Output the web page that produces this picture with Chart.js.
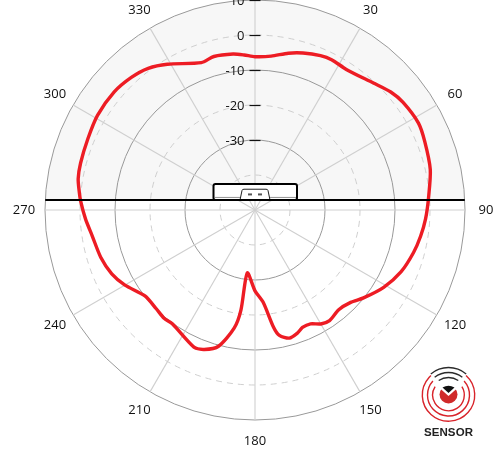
<!DOCTYPE html>
<html><head><meta charset="utf-8">
<style>html,body{margin:0;padding:0;background:#fff}#w{position:relative;width:500px;height:465px}canvas{display:block}</style>
<script src="https://cdn.jsdelivr.net/npm/chart.js@4"></script>
</head><body><div id="w"><canvas id="c" width="500" height="465"></canvas></div>
<script>
const angleLabels = [30,60,90,120,150,180,210,240,270,300,330];
const tickLabels = [10,0,-10,-20,-30];
const readAngles = [0,6,12,17,23,27,33,43,49,54,62,68,77,86,93,99,105,113,121,129,134,140,146,150,154,158,161,165,169,171,175,180,187,188,190,195,200,204,216,220,225,232,240,246,253,261,267,273,276,280,285,293,301,310,317,323,329,340,345,352,356];
const readValues = [-6.2,-5.8,-4.2,-3.1,-2.1,-1.8,-2.1,-0.4,1.4,2.3,2.9,2.3,1.4,-0.3,-1.2,-2.1,-3.1,-4.7,-7.1,-10.1,-12.0,-12.8,-11.9,-12.4,-13.8,-13.8,-12.8,-12.1,-13.5,-16.1,-23.6,-26.9,-31.9,-21.1,-15.7,-9.7,-7.6,-7.1,-9.8,-9.6,-10.1,-10.1,-7.1,-5.2,-3.9,-2.9,-1.5,-0.1,0.5,1.3,1.6,1.9,2.5,2.5,1.8,0.7,-1.4,-5.2,-4.6,-5.0,-5.6];
const rMin = -50, rMax = 10, horizonValue = -47.15;

const labels = Array.from({length:360},(_,i)=>String(i));
const series = labels.map(()=>null);
readAngles.forEach((a,i)=>{series[a]=readValues[i];});

const FONT = '"Open Sans", sans-serif';

const decor = {
  id:'decor',
  beforeDraw(chart){
    const s=chart.scales.r, c=chart.ctx;
    const R=s.getDistanceFromCenterForValue(rMax);
    const h=s.getDistanceFromCenterForValue(horizonValue);
    c.save();
    c.beginPath();c.rect(0,0,500,s.yCenter-h);c.clip();
    c.beginPath();c.arc(s.xCenter,s.yCenter,R,0,Math.PI*2);
    c.fillStyle='#f7f7f7';c.fill();
    c.restore();
  },
  afterDatasetsDraw(chart){
    const s=chart.scales.r, c=chart.ctx;
    const cx=s.xCenter, cy=s.yCenter;
    const R=s.getDistanceFromCenterForValue(rMax);
    const h=s.getDistanceFromCenterForValue(horizonValue);
    const by=cy-h;
    // sensor body
    c.save();
    c.beginPath();c.roundRect(cx-41.5,by-16,83.5,16,2);
    c.fillStyle='#fff';c.fill();
    c.lineWidth=2;c.strokeStyle='#000';c.stroke();
    c.strokeStyle='#777';c.lineWidth=.8;
    c.beginPath();c.moveTo(cx-41,by-2.6);c.lineTo(cx-15,by-2.6);c.moveTo(cx+15,by-2.6);c.lineTo(cx+41,by-2.6);c.stroke();
    c.strokeStyle='#222';c.lineWidth=1;
    c.beginPath();c.moveTo(cx-15,by);c.lineTo(cx-13,by-9.5);c.quadraticCurveTo(cx-12.8,by-10.8,cx-11,by-10.8);
    c.lineTo(cx+11,by-10.8);c.quadraticCurveTo(cx+12.8,by-10.8,cx+13,by-9.5);c.lineTo(cx+15,by);c.stroke();
    c.fillStyle='#555';c.fillRect(cx-7,by-6.6,4,2);c.fillRect(cx+3,by-6.6,4,2);
    // horizon
    const dx=Math.sqrt(R*R-h*h);
    c.strokeStyle='#000';c.lineWidth=2;
    c.beginPath();c.moveTo(cx-dx,by);c.lineTo(cx+dx,by);c.stroke();
    // tick marks and labels
    c.font='13px '+FONT;c.textAlign='right';c.textBaseline='middle';c.fillStyle='#111';
    tickLabels.forEach(v=>{
      const y=cy-s.getDistanceFromCenterForValue(v)+0.5;
      c.strokeStyle='#111';c.lineWidth=1.2;
      c.beginPath();c.moveTo(cx-5.5,y);c.lineTo(cx+5.5,y);c.stroke();
      c.fillText(String(v),cx-10.5,y+0.5);
    });
    // angle labels
    c.textAlign='center';
    angleLabels.forEach(a=>{
      const p=s.getPointPosition(a,R+21);
      c.fillText(String(a),p.x,p.y);
    });
    // logo
    const lx=448.5, ly=395;
    const arc=(r,a0,a1,col,w)=>{c.beginPath();c.arc(lx,ly,r,a0,a1);c.strokeStyle=col;c.lineWidth=w;c.stroke();};
    const up=-Math.PI/2, d=Math.PI/180;
    [[26.2,42],[21,48],[15.8,58]].forEach(([r,g])=>arc(r,up+g*d,up+(360-g)*d,'#d8232a',1.4));
    [[27.5,40],[22.5,38],[17.5,34]].forEach(([r,g])=>arc(r,up-g*d,up+g*d,'#2b2b2b',1.3));
    c.beginPath();c.arc(lx,ly-0.5,9,0,Math.PI*2);c.fillStyle='#d02a2a';c.fill();
    c.beginPath();c.moveTo(lx-9,ly-7);c.lineTo(lx,ly+1);c.lineTo(lx+9,ly-7);c.lineTo(lx+9,ly-11);c.lineTo(lx-9,ly-11);c.closePath();c.fillStyle='#fff';c.fill();
    c.beginPath();c.moveTo(lx-6,ly-7.5);c.quadraticCurveTo(lx,ly-11,lx+6,ly-7.5);c.lineTo(lx,ly-2);c.closePath();c.fillStyle='#111';c.fill();
    c.font='bold 11.5px "Liberation Sans", sans-serif';c.fillStyle='#222';
    if('letterSpacing' in c)c.letterSpacing='0.1px';
    c.textAlign='center';c.fillText('SENSOR',lx,433);
    c.restore();
  }
};

new Chart(document.getElementById('c'),{
  type:'radar',
  data:{labels,datasets:[{data:series,borderColor:'#ed1c24',borderWidth:3.4,pointRadius:0,tension:0.25,fill:false,spanGaps:true,borderJoinStyle:'round'}]},
  plugins:[decor],
  options:{
    responsive:false,animation:false,
    layout:{padding:{left:45,right:35,top:0,bottom:45}},
    plugins:{legend:{display:false},tooltip:{enabled:false},title:{display:false}},
    scales:{r:{
      min:rMin,max:rMax,
      ticks:{display:false,stepSize:10},
      pointLabels:{display:false},
      angleLines:{display:true,color:'#cfcfcf',lineWidth:ctx=>(ctx.index%30===0)?1.1:0},
      grid:{circular:true,color:ctx=>((ctx.tick.value+50)%20===0)?'#999':'#cfcfcf',lineWidth:1},
      border:{dash:ctx=>((ctx.tick.value+50)%20===0)?[]:[6,5]}
    }}
  }
});
</script></body></html>
